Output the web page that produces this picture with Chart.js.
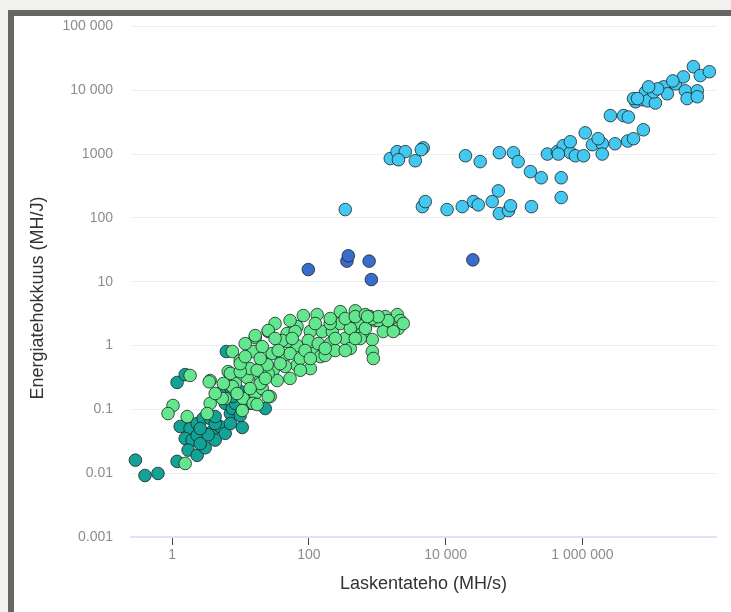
<!DOCTYPE html>
<html><head><meta charset="UTF-8">
<title>Energiatehokkuus</title>
<script src="https://cdn.jsdelivr.net/npm/chart.js"></script>
<style>
html,body{margin:0;padding:0;background:#f2f1ed;width:731px;height:612px;overflow:hidden}
#frame{position:absolute;left:8px;top:10px;right:0;bottom:0;background:#fff;border-top:6px solid #666;border-left:6px solid #666}
#c{position:absolute;left:0;top:0}
</style></head><body>
<div id="frame"></div>
<canvas id="c" width="731" height="612"></canvas>
<script>
// laskentateho (MH/s) ja energiatehokkuus (MH/J) luettu kuvasta
const gpuX = [83,132,288,477,790,670,564,930,1100,1960,2170,1310,1660,1225,2030,1715,32,25.4,16.4,48,67,105,157,220,288,403,564,38,67,98,845,845,875,7.6,15.3,9.9,29,42,67,116,147,173,6.6,3.6,18.1,30,45,34.4,19.4,12.5,5.97,3.6,10.9,16.4,27.2,15.3,10.6,3.25,205,63,48,53,75,105,137,205,340,243,23,13.8,8.4,20.8,53,75,403,600,1.83,3.48,1.03,0.87,1.66,1.55,5.4,7.1,9.9,7.6,17.5,25.4,19.4,25.4,24.5,9.9,16.4,25.4,40.7,11.7,17.5,340,477,670,1030,1310,564,403,243,
  20.8,35.6,57,88,173,340,477,670,53,124,23,13.8,8.9,5.6,4.26,38,105,19.4,11.7,32,205,1430,2400,845,1030,720];
const gpuY = [2.95,3.05,3.4,3.5,2.84,2.6,2.46,2.46,2.65,3.05,2.46,2.21,1.98,1.66,1.85,1.66,2.21,1.66,1.33,1.54,1.98,1.66,1.66,1.66,2.21,2.38,2.21,1.16,1.0,1.2,1.24,0.805,0.626,0.805,0.805,0.58,0.75,0.626,0.49,0.75,0.67,0.70,0.39,0.283,0.42,0.41,0.47,0.283,0.283,0.316,0.148,0.124,0.148,0.177,0.159,0.124,0.096,0.086,2.21,1.66,1.16,0.75,0.626,0.436,1.07,1.07,1.29,0.835,0.52,0.436,0.254,0.212,0.305,0.41,1.85,1.54,0.34,0.27,0.115,0.086,0.077,0.0142,0.148,0.365,0.39,0.228,0.119,0.159,0.254,0.365,0.50,0.52,1.43,1.72,1.2,0.67,0.41,2.65,2.84,3.05,2.46,2.84,1.29,0.9,1.29,
  0.96,0.835,1.29,0.835,0.90,0.835,1.29,1.85,2.46,2.21,0.305,0.212,0.177,0.254,0.177,0.52,0.626,0.626,1.07,1.29,2.65,2.46,2.21,2.65,2.84,2.84];

const cpuX = [1.18,1.55,1.31,1.83,1.55,1.96,2.32,1.71,2.32,3.04,2.32,3.85,5.0,5.97,4.26,2.84,0.29,0.40,0.62,1.18,10.6,7.1,9.25,5.97,23,6.6,6.2,9.9,7.6,3.6,4.26,2.57,3.36,13.8,9.9,8.4,5.0,7.6,2.57,4.26,7.1];
const cpuY = [0.264,0.35,0.054,0.050,0.035,0.033,0.039,0.023,0.019,0.025,0.060,0.045,0.054,0.042,0.033,0.072,0.016,0.0092,0.0099,0.0153,0.052,0.086,0.103,0.124,0.103,0.212,0.805,0.19,0.103,0.072,0.06,0.029,0.04,0.124,0.08,0.124,0.177,0.159,0.05,0.077,0.06];

const fpgaX = [98,360,377,760,820,25000];
const fpgaY = [15.5,21,25.5,21,10.8,22];

const asicX = [1550,1950,2570,2040,3600,4700,4400,340,4570,5040,10500,17500,25500,30000,48000,59000,61000,83000,89000,180000,490000,19500,32000,61000,98000,115000,174000,250000,490000,308000,430000,525000,665000,445000,665000,790000,1.1e6,1.04e6,1.4e6,1.95e6,1.95e6,1.7e6,3.0e6,4.6e6,5.6e6,7.8e6,2.57e6,4.0e6,4.7e6,6.0e6,5.6e6,7.6e6,8.4e6,9.0e6,1.17e7,1.1e7,1.54e7,1.75e7,2.3e7,3.0e7,3.2e7,3.4e7,4.8e7,4.8e7,4.2e7,5.3e7,7.2e7,2.1e7,1.26e7,9.3e6,6.4e6];
const asicY = [850,1090,1090,815,785,1250,1170,135,150,180,135,150,180,160,180,265,117,130,155,150,208,940,760,1050,1050,760,530,425,425,1000,1090,1350,1050,1000,1560,940,2150,940,1400,1450,1000,1740,1450,1600,1740,2400,4000,4000,3800,6600,7400,7100,9400,6800,6300,9400,11300,8800,12600,16200,9800,7400,9800,7900,23400,17000,19500,14000,10500,11300,7400];

const xTicks = [1, 100, 10000, 1000000];
const xTickLabels = ['1', '100', '10 000', '1 000 000'];
const yTicks = [0.001, 0.01, 0.1, 1, 10, 100, 1000, 10000, 100000];
const yTickLabels = ['0.001', '0.01', '0.1', '1', '10', '100', '1000', '10 000', '100 000'];

const pts = (xs, ys) => xs.map((x, i) => ({x, y: ys[i]}));
const ds = (label, xs, ys, color) => ({
  label, data: pts(xs, ys), backgroundColor: color, clip: false,
  borderColor: 'rgba(25,25,25,0.75)', borderWidth: 1, pointRadius: 6.3
});

// y-akselin otsikko piirretään itse, jotta sen paikka vastaa kuvaa
const yTitle = {
  id: 'yTitle',
  afterDraw(chart) {
    const c = chart.ctx;
    c.save();
    c.translate(38, 298);
    c.rotate(-Math.PI / 2);
    c.font = '18px "Liberation Sans", Arial, sans-serif';
    c.fillStyle = '#333';
    c.textAlign = 'center';
    c.textBaseline = 'middle';
    c.fillText('Energiatehokkuus (MH/J)', 0, 0);
    c.restore();
  }
};

Chart.defaults.font.family = '"Liberation Sans", Arial, sans-serif';

new Chart(document.getElementById('c'), {
  type: 'scatter',
  data: {
    datasets: [
      ds('GPU', gpuX, gpuY, '#62e68e'),
      ds('CPU', cpuX, cpuY, '#12a396'),
      ds('FPGA', fpgaX, fpgaY, '#396dcd'),
      ds('ASIC', asicX, asicY, '#42c8f1')
    ]
  },
  options: {
    responsive: false,
    animation: false,
    devicePixelRatio: 1,
    layout: {padding: {left: 0, top: 26, right: 15, bottom: 0}},
    plugins: {legend: {display: false}, tooltip: {enabled: false}},
    scales: {
      x: {
        type: 'logarithmic', min: 0.25, max: 9e7,
        afterBuildTicks: s => { s.ticks = xTicks.map(v => ({value: v})); },
        afterFit: s => { s.height = 75; },
        grid: {drawOnChartArea: false, drawTicks: true, tickLength: 8, tickColor: '#444', tickWidth: 1},
        border: {color: '#dfe4f4', width: 2},
        ticks: {autoSkip: false, maxRotation: 0, padding: 2, color: '#8c8c8c', font: {size: 14},
          callback: (v, i) => xTickLabels[i]},
        title: {display: true, text: 'Laskentateho (MH/s)', color: '#333', font: {size: 18},
          padding: {top: 0, bottom: 17}}
      },
      y: {
        type: 'logarithmic', min: 0.001, max: 100000,
        afterBuildTicks: s => { s.ticks = yTicks.map(v => ({value: v})); },
        afterFit: s => { s.width = 131; },
        grid: {drawTicks: false,
          color: c => c.index === 0 ? '#dfe4f4' : '#eeeeee',
          lineWidth: c => c.index === 0 ? 2 : 1},
        border: {display: false},
        ticks: {autoSkip: false, padding: 18, color: '#8c8c8c', font: {size: 14},
          callback: (v, i) => yTickLabels[i]}
      }
    }
  },
  plugins: [yTitle]
});
</script></body></html>
